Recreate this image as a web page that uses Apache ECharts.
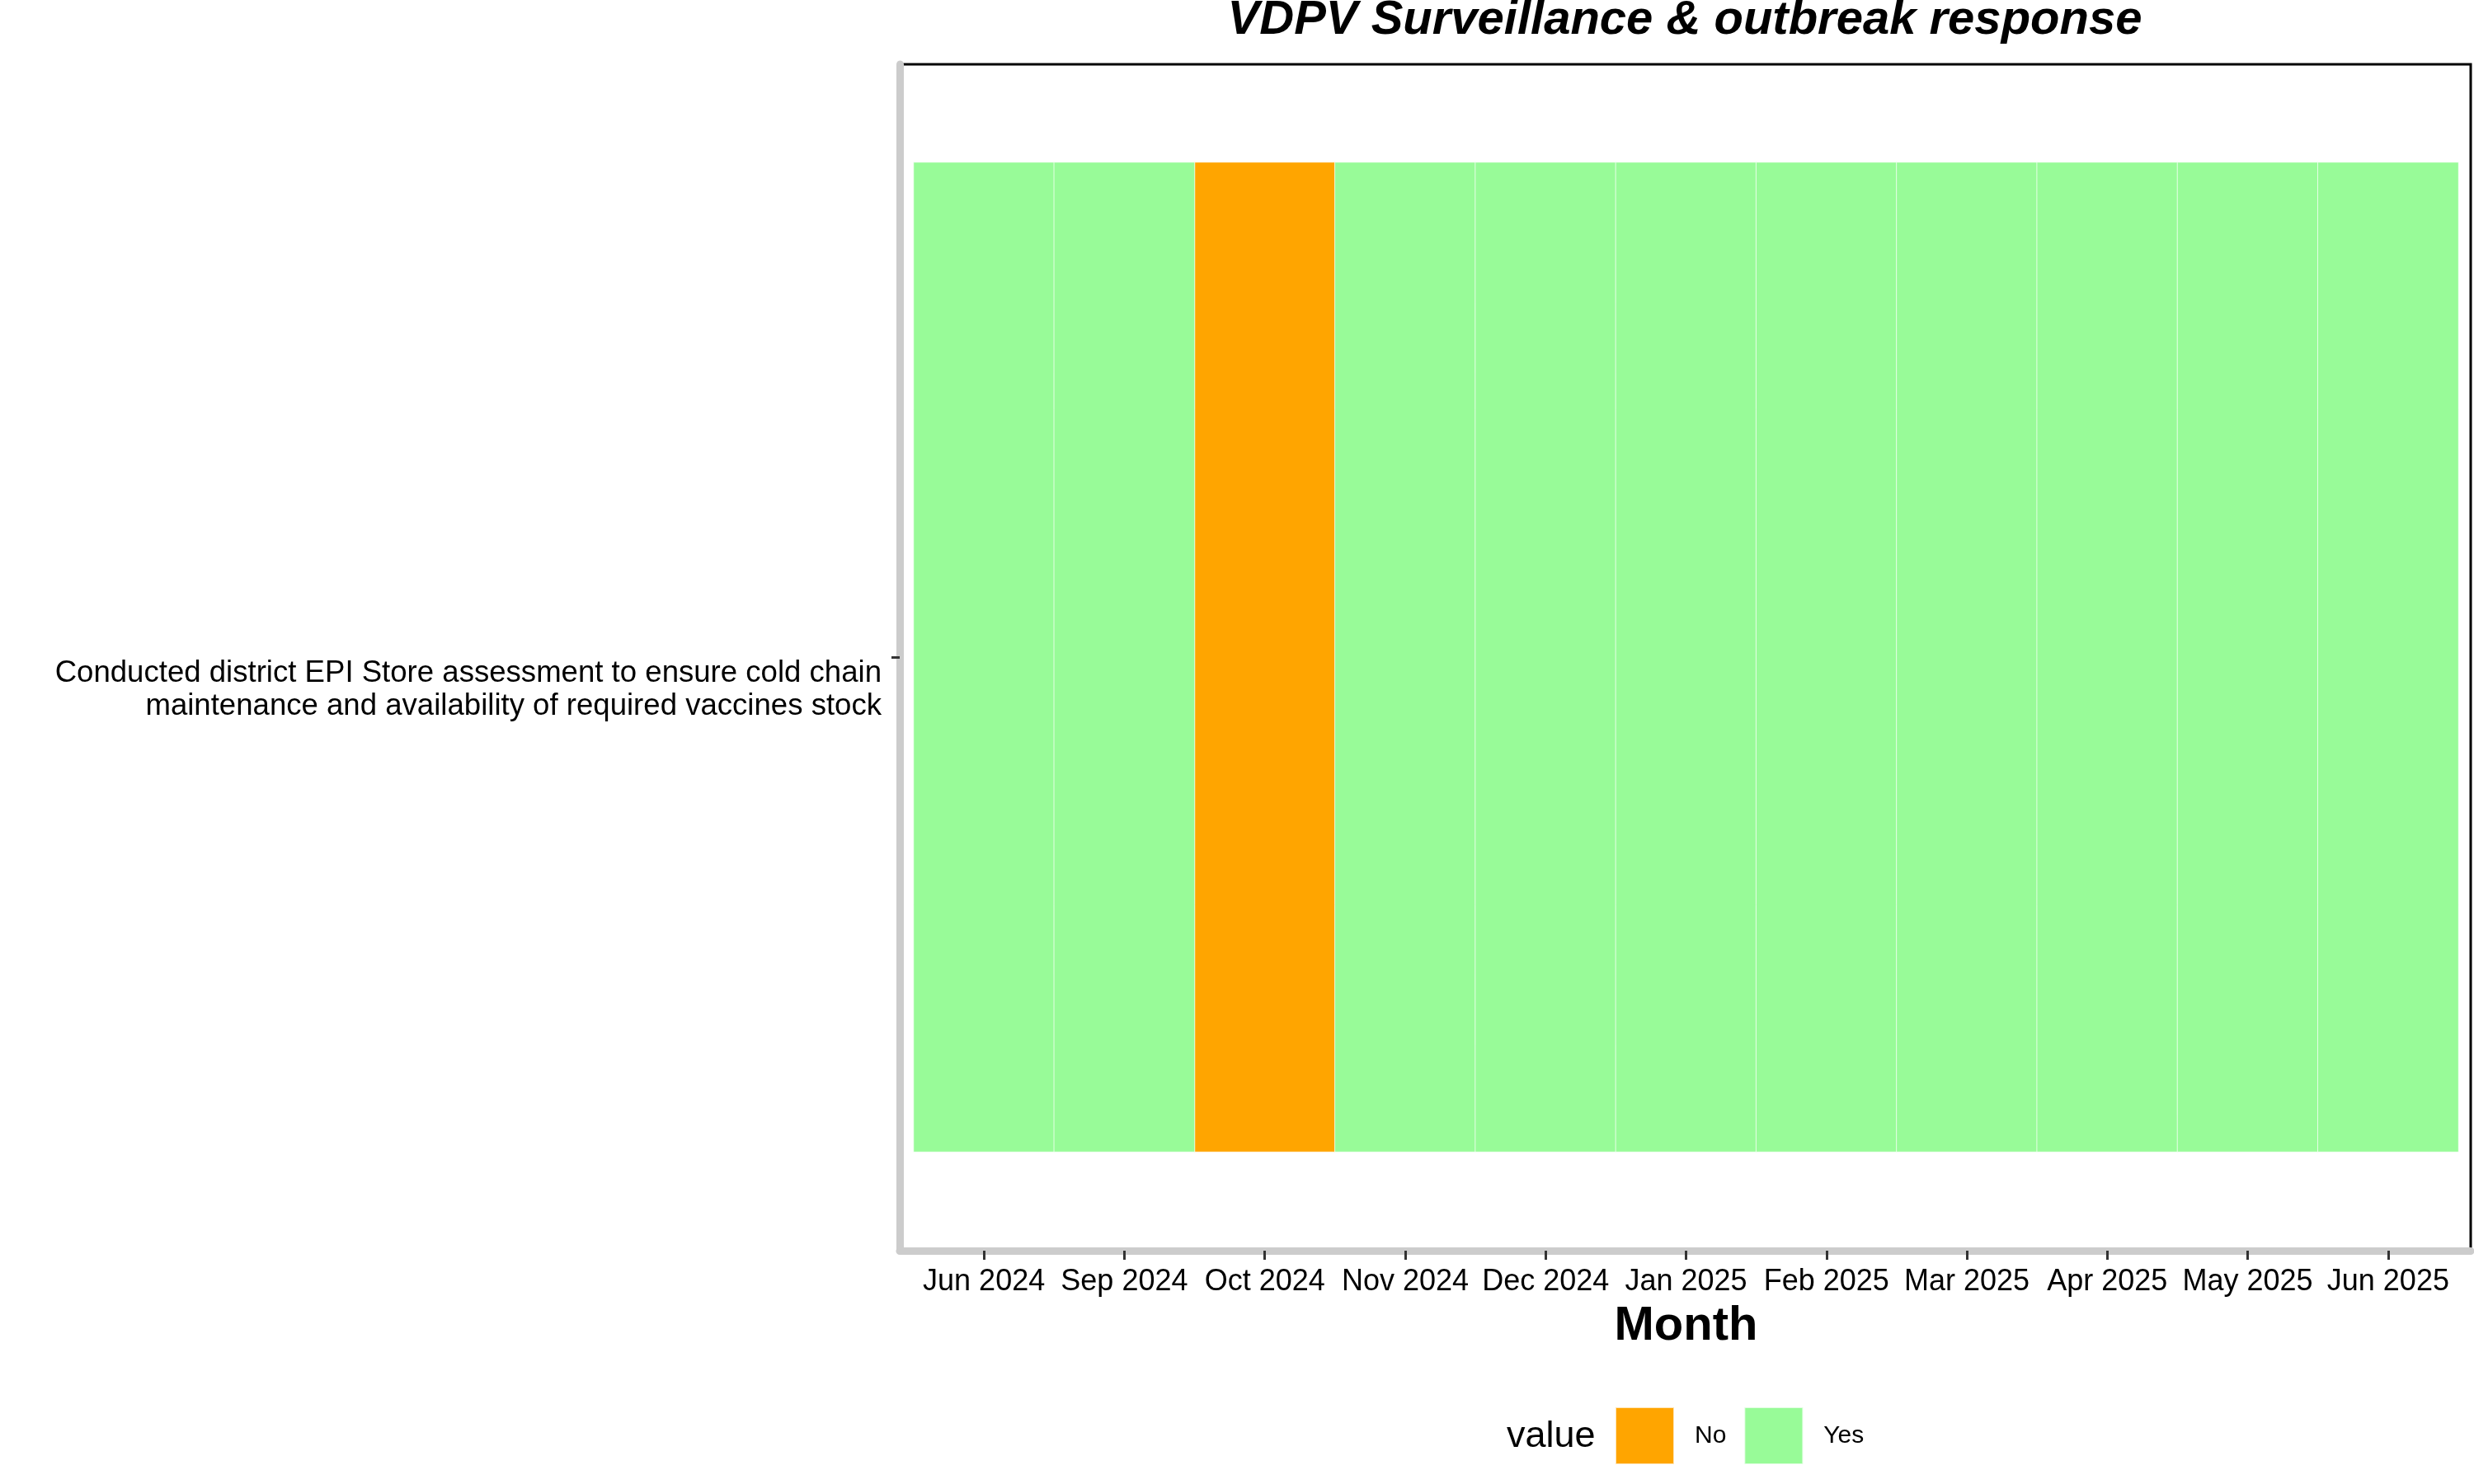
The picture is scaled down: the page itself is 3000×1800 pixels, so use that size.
<!DOCTYPE html>
<html>
<head>
<meta charset="utf-8">
<script src="https://cdn.jsdelivr.net/npm/echarts@6/dist/echarts.min.js"></script>
<style>
html, body { margin: 0; padding: 0; background: #fff; }
#chart { width: 3000px; height: 1800px; }
</style>
</head>
<body>
<div id="chart"></div>
<script>
const chartTitle = 'VDPV Surveillance & outbreak response';
const months = ['Jun 2024', 'Sep 2024', 'Oct 2024', 'Nov 2024', 'Dec 2024', 'Jan 2025',
                'Feb 2025', 'Mar 2025', 'Apr 2025', 'May 2025', 'Jun 2025'];
const activities = ['Conducted district EPI Store assessment to ensure cold chain\nmaintenance and availability of required vaccines stock'];
const statusByMonth = ['Yes', 'Yes', 'No', 'Yes', 'Yes', 'Yes', 'Yes', 'Yes', 'Yes', 'Yes', 'Yes'];
const levels = ['No', 'Yes'];
const levelColors = { No: '#FFA500', Yes: '#98FB98' };
const xTitle = 'Month';
const legendTitle = 'value';

const FONT = '"Liberation Sans", Arial, Helvetica, sans-serif';

const series = levels.map(function (lv) {
  const data = [];
  statusByMonth.forEach(function (s, i) {
    if (s === lv) data.push([i, 0, 1]);
  });
  return {
    name: lv,
    type: 'heatmap',
    xAxisIndex: 1,
    yAxisIndex: 1,
    data: data,
    itemStyle: { color: levelColors[lv], borderColor: 'rgba(255,255,255,0.7)', borderWidth: 1 },
    emphasis: { disabled: true }
  };
});

const chart = echarts.init(document.getElementById('chart'), null, { renderer: 'canvas' });
chart.setOption({
  animation: false,
  backgroundColor: '#ffffff',
  grid: [
    { left: 1091, right: 4, top: 78, bottom: 283, show: true, borderColor: '#000000', borderWidth: 3, backgroundColor: 'transparent', containLabel: false },
    { left: 1108, right: 19, top: 197, bottom: 403, containLabel: false }
  ],
  xAxis: [
    { gridIndex: 0, type: 'value', min: 0, max: 1, z: 1,
      axisLine: { show: true, onZero: false, lineStyle: { color: '#CCCCCC', width: 9 } },
      axisTick: { show: false }, axisLabel: { show: false }, splitLine: { show: false } },
    { gridIndex: 1, type: 'category', data: months, offset: 120, z: 3,
      axisLine: { show: false },
      axisTick: { show: true, alignWithLabel: true, length: 11, lineStyle: { color: '#333333', width: 3 } },
      axisLabel: { interval: 0, margin: 20, fontSize: 36, color: '#000', fontFamily: FONT },
      splitLine: { show: false },
      name: xTitle, nameLocation: 'middle', nameGap: 63,
      nameTextStyle: { fontSize: 58, fontWeight: 'bold', color: '#000', fontFamily: FONT } }
  ],
  yAxis: [
    { gridIndex: 0, type: 'value', min: 0, max: 1, z: 1,
      axisLine: { show: true, onZero: false, lineStyle: { color: '#CCCCCC', width: 9 } },
      axisTick: { show: false }, axisLabel: { show: false }, splitLine: { show: false } },
    { gridIndex: 1, type: 'category', data: activities, offset: 17, z: 3,
      axisLine: { show: false },
      axisTick: { show: true, alignWithLabel: true, length: 10, lineStyle: { color: '#333333', width: 3 } },
      axisLabel: { margin: 22, fontSize: 36.6, lineHeight: 40, color: '#000', fontFamily: FONT,
                   align: 'right', verticalAlign: 'top' },
      splitLine: { show: false } }
  ],
  legend: {
    data: levels,
    left: 1953, top: 1701,
    orient: 'horizontal',
    icon: 'rect',
    itemWidth: 71, itemHeight: 69, itemGap: 21,
    textStyle: { fontSize: 30, color: '#000', fontFamily: FONT, padding: [0, 0, 0, 20] },
    selectedMode: false
  },
  graphic: [
    { type: 'text', x: 2043, y: 25, z: 10,
      style: { text: chartTitle, fontSize: 58, fontWeight: 'bold', fontStyle: 'italic', fontFamily: FONT,
               fill: '#000', align: 'center', verticalAlign: 'middle' } },
    { type: 'text', x: 1827, y: 1743, z: 10,
      style: { text: legendTitle, fontSize: 45, fontFamily: FONT, fill: '#000', align: 'left', verticalAlign: 'middle' } }
  ],
  series: series
});
</script>
</body>
</html>
